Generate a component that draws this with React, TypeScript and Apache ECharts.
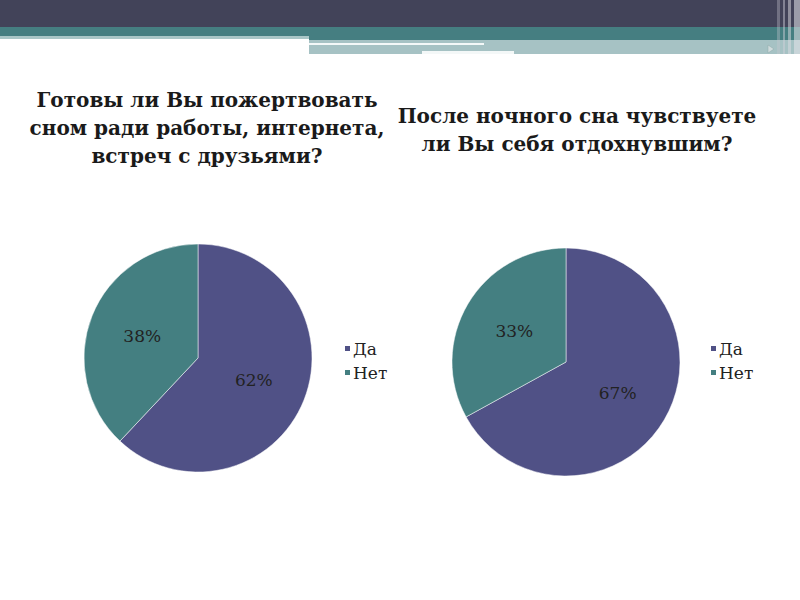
import React, { useEffect, useRef } from "react";
import * as echarts from "echarts";

const categories = ["Да", "Нет"];
const valuesLeft = [62, 38];
const valuesRight = [67, 33];
const titleLeft = "Готовы ли Вы пожертвовать\nсном ради работы, интернета,\nвстреч с друзьями?";
const titleRight = "После ночного сна чувствуете\nли Вы себя отдохнувшим?";
const colors = ["#505186", "#447f81"];

const SERIF = "'DejaVu Serif', 'Liberation Serif', serif";

export default function App() {
  const ref = useRef<HTMLDivElement>(null);
  useEffect(() => {
    if (!ref.current) return;
    const chart = echarts.init(ref.current, undefined, { renderer: "svg" });
    const mkData = (vals: number[]) => categories.map((c, i) => ({ name: c, value: vals[i] }));
    const pieBase = {
      type: "pie" as const,
      radius: 114,
      startAngle: 90,
      clockwise: true,
      label: {
        show: true,
        position: "inside" as const,
        formatter: "{d}%",
        color: "#222",
        fontFamily: SERIF,
        fontSize: 17,
      },
      labelLine: { show: false },
      itemStyle: { borderColor: "#ffffff", borderWidth: 0.5 },
      emphasis: { disabled: true },
    };
    const legendBase = {
      orient: "vertical" as const,
      icon: "rect",
      itemWidth: 7,
      itemHeight: 7,
      itemGap: 7,
      textStyle: { fontFamily: SERIF, fontSize: 17, color: "#222", padding: [0, 0, 0, -3] },
      data: categories,
      selectedMode: false,
    };
    const titleStyle = {
      fontFamily: SERIF,
      fontSize: 20,
      fontWeight: "bold" as const,
      color: "#1a1a1a",
      lineHeight: 28,
      align: "center" as const,
    };
    chart.setOption({
      animation: false,
      backgroundColor: "#ffffff",
      color: colors,
      title: [
        { text: titleLeft, left: 202, top: 81, textAlign: "center", textStyle: titleStyle },
        { text: titleRight, left: 572, top: 97, textAlign: "center", textStyle: titleStyle },
      ],
      legend: [
        { ...legendBase, left: 338, top: 335 },
        { ...legendBase, left: 704, top: 335 },
      ],
      series: [
        { ...pieBase, name: "left", center: [198, 358], data: mkData(valuesLeft) },
        { ...pieBase, name: "right", center: [566, 362], data: mkData(valuesRight) },
      ],
      graphic: [
        { type: "rect", shape: { x: 0, y: 0, width: 800, height: 27 }, style: { fill: "#424359" } },
        { type: "rect", shape: { x: 0, y: 27, width: 800, height: 9 }, style: { fill: "#457e81" } },
        { type: "rect", shape: { x: 0, y: 36, width: 309, height: 3 }, style: { fill: "#a9c6c7" } },
        { type: "rect", shape: { x: 309, y: 36, width: 491, height: 4 }, style: { fill: "#457e81" } },
        { type: "rect", shape: { x: 309, y: 40, width: 491, height: 14 }, style: { fill: "#a6c2c4" } },
        { type: "rect", shape: { x: 309, y: 43, width: 175, height: 2 }, style: { fill: "#f4f8f8" } },
        { type: "rect", shape: { x: 422, y: 51, width: 92, height: 3 }, style: { fill: "#f4f8f8" } },
        { type: "rect", shape: { x: 777, y: 0, width: 3, height: 54 }, style: { fill: "rgba(200,200,210,0.35)" } },
        { type: "rect", shape: { x: 783, y: 0, width: 2, height: 54 }, style: { fill: "rgba(210,210,220,0.45)" } },
        { type: "rect", shape: { x: 788, y: 0, width: 3, height: 54 }, style: { fill: "rgba(220,220,225,0.5)" } },
        { type: "rect", shape: { x: 794, y: 0, width: 6, height: 54 }, style: { fill: "rgba(230,230,235,0.55)" } },
        { type: "polygon", shape: { points: [[768, 45], [768, 53], [774, 49]] }, style: { fill: "#d0dcdd", stroke: "#8fa8aa", lineWidth: 0.5 } },
      ],
    });
    return () => chart.dispose();
  }, []);
  return (
    <div
      ref={ref}
      style={{ position: "fixed", left: 0, top: 0, width: 800, height: 600 }}
    />
  );
}
